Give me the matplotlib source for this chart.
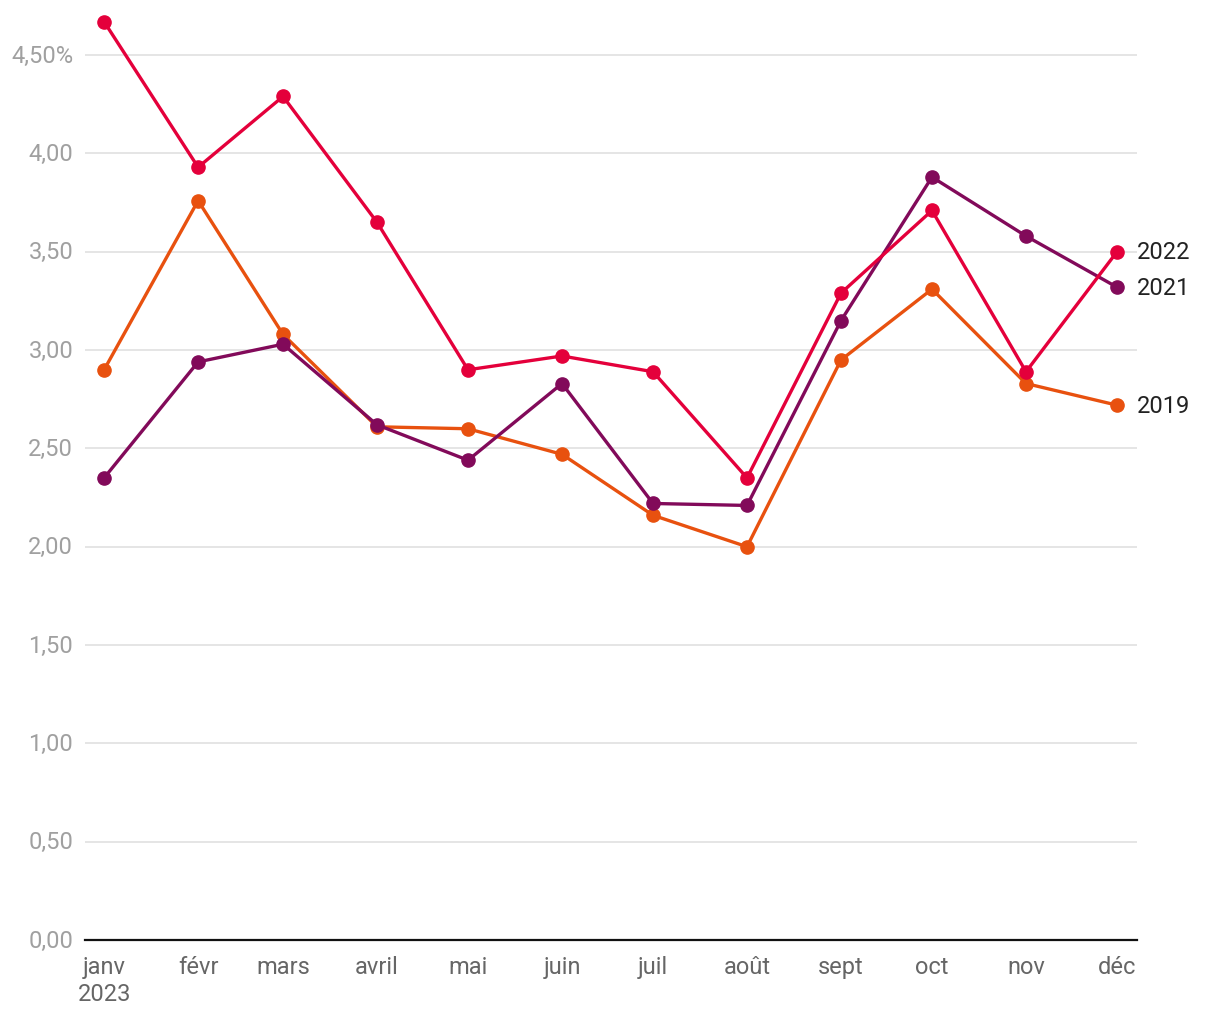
import matplotlib
matplotlib.use("Agg")
import matplotlib.pyplot as plt
import matplotlib.dates as mdates
import numpy as np

plt.rcParams['font.family'] = ['Roboto', 'DejaVu Sans']

months = ["2023-01-01", "2023-02-01", "2023-03-01", "2023-04-01", "2023-05-01", "2023-06-01",
          "2023-07-01", "2023-08-01", "2023-09-01", "2023-10-01", "2023-11-01", "2023-12-01"]
month_labels = ["janv\n2023", "févr", "mars", "avril", "mai", "juin",
                "juil", "août", "sept", "oct", "nov", "déc"]
s2019 = [2.90, 3.76, 3.08, 2.61, 2.60, 2.47, 2.16, 2.00, 2.95, 3.31, 2.83, 2.72]
s2021 = [2.35, 2.94, 3.03, 2.62, 2.44, 2.83, 2.22, 2.21, 3.15, 3.88, 3.58, 3.32]
s2022 = [4.67, 3.93, 4.29, 3.65, 2.90, 2.97, 2.89, 2.35, 3.29, 3.71, 2.89, 3.50]
series_names = ["2019", "2021", "2022"]
colors = ["#e8510f", "#820a5a", "#e4003b"]
yticks = [0, 0.5, 1.0, 1.5, 2.0, 2.5, 3.0, 3.5, 4.0, 4.5]
ytick_labels = ["0,00", "0,50", "1,00", "1,50", "2,00", "2,50", "3,00", "3,50", "4,00", "4,50%"]

x = np.array(months, dtype="datetime64[D]").astype("O")
xn = mdates.date2num(x)

fig = plt.figure(figsize=(12.2, 10.2), dpi=100)
ax = fig.add_axes([85/1220, 79/1020, (1137-85)/1220, 934/1020])

for name, vals, c in zip(series_names, [s2019, s2021, s2022], colors):
    ax.plot(xn, vals, color=c, lw=2.4, marker='o', ms=9.5, clip_on=False, zorder=3,
            solid_joinstyle='round')
    ax.annotate(name, (xn[-1], vals[-1]), xytext=(14, 0), textcoords='offset points',
                va='center', ha='left', fontsize=17, color='#222222')

ax.set_xlim(xn[0] - 6.3, xn[-1] + 6.6)
ax.set_ylim(0, 4.75)
ax.set_yticks(yticks)
ax.set_yticklabels(ytick_labels)
ax.set_xticks(xn)
ax.set_xticklabels(month_labels)
ax.grid(axis='y', color='#e3e3e3', lw=1.3)
ax.grid(axis='x', visible=False)
ax.set_axisbelow(True)
for s in ['top', 'right', 'left']:
    ax.spines[s].set_visible(False)
ax.spines['bottom'].set_color('#111111')
ax.spines['bottom'].set_linewidth(1.6)
ax.spines['bottom'].set_zorder(2)
ax.tick_params(axis='y', length=0, pad=8.5, labelsize=17, labelcolor='#a0a0a0')
ax.tick_params(axis='x', length=0, pad=11, labelsize=17, labelcolor='#666666')
for lbl in ax.get_yticklabels():
    lbl.set_verticalalignment('center')
fig.savefig("out.png", dpi=100, facecolor='white')
